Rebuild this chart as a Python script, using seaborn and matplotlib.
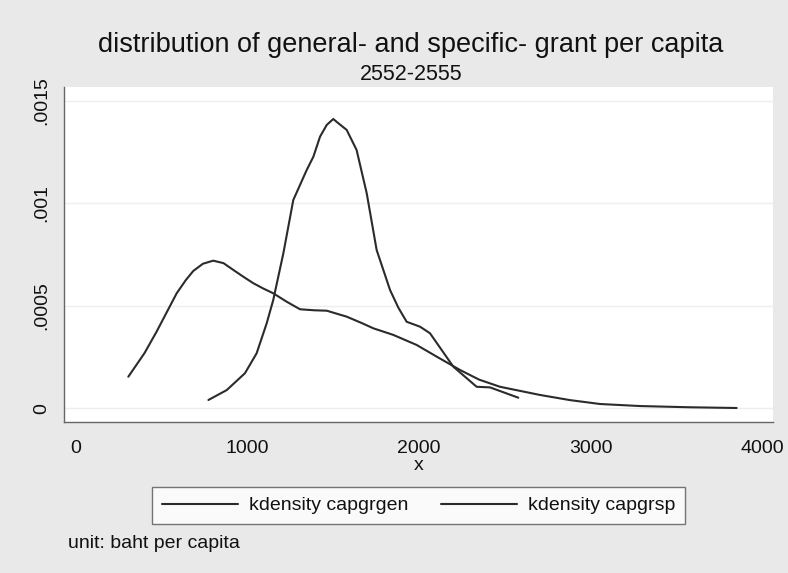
import matplotlib
matplotlib.use("Agg")
import matplotlib.pyplot as plt
import numpy as np
import pandas as pd
import seaborn as sns

# Kernel density estimates (evaluation points and densities)
gen_x = [305, 400, 470, 530, 587, 640, 684, 740, 800, 860, 917, 975, 1034, 1090,
         1150, 1228, 1306, 1390, 1462, 1578, 1660, 1734, 1850, 1986, 2103, 2239,
         2350, 2472, 2706, 2880, 3055, 3289, 3580, 3852]
gen_y = [0.000154, 0.000270, 0.000374, 0.000470, 0.000561, 0.000625, 0.000670,
         0.000705, 0.000720, 0.000708, 0.000675, 0.000642, 0.000610, 0.000585,
         0.000561, 0.000520, 0.000483, 0.000478, 0.000476, 0.000447, 0.000418,
         0.000390, 0.000358, 0.000309, 0.000252, 0.000187, 0.000140, 0.000105,
         0.000065, 0.000040, 0.000021, 0.000011, 0.000005, 0.0000015]

sp_x = [772, 879, 985, 1053, 1112, 1150, 1209, 1267, 1345, 1384, 1423, 1462,
        1500, 1530, 1578, 1636, 1695, 1753, 1831, 1880, 1928, 2006, 2064, 2200,
        2336, 2414, 2579]
sp_y = [0.0000405, 0.000089, 0.000171, 0.000268, 0.000415, 0.000528, 0.000756,
        0.001016, 0.001162, 0.001227, 0.001325, 0.001382, 0.001411, 0.001390,
        0.001358, 0.001260, 0.001049, 0.000772, 0.000577, 0.000490, 0.000422,
        0.000398, 0.000366, 0.000203, 0.000105, 0.000102, 0.0000517]

series_names = ["kdensity capgrgen", "kdensity capgrsp"]
x_ticks = [0, 1000, 2000, 3000, 4000]
y_ticks = [0, 0.0005, 0.001, 0.0015]
y_tick_labels = ["0", ".0005", ".001", ".0015"]

df = pd.concat([
    pd.DataFrame({"x": gen_x, "density": gen_y, "series": series_names[0]}),
    pd.DataFrame({"x": sp_x, "density": sp_y, "series": series_names[1]}),
], ignore_index=True)

sns.set_style("white")
plt.rcParams["font.family"] = ["Liberation Sans", "DejaVu Sans"]

W, H = 788, 573
bg = "#e9e9e9"
fig = plt.figure(figsize=(W / 100, H / 100), dpi=100, facecolor=bg)
ax = fig.add_axes([64 / W, 1 - 422 / H, 709 / W, 335 / H])
ax.set_facecolor("white")

line_col = "#2b2b2b"
sns.lineplot(data=df, x="x", y="density", hue="series", palette=[line_col, line_col],
             linewidth=1.5, ax=ax, sort=True)

ax.set_xlim(-70, 4064)
ax.set_ylim(-0.0000668, 0.001567)
ax.set_xticks(x_ticks)
ax.set_xticklabels([str(t) for t in x_ticks])
ax.set_yticks(y_ticks)
ax.set_yticklabels(y_tick_labels, rotation=90, va="center")
ax.yaxis.grid(True, color="#eeeeee", linewidth=1.0)
ax.set_axisbelow(True)

for side in ["top", "right"]:
    ax.spines[side].set_visible(False)
for side in ["left", "bottom"]:
    ax.spines[side].set_color("#666666")
    ax.spines[side].set_linewidth(1.0)
ax.tick_params(axis="both", direction="out", length=5, width=1, color="#666666",
               labelsize=14, labelcolor="#111111")
ax.tick_params(axis="y", pad=5)
ax.tick_params(axis="x", pad=8)
ax.set_xlabel("x", fontsize=14, color="#111111", labelpad=0)
ax.set_ylabel("")

handles, labels = ax.get_legend_handles_labels()
ax.get_legend().remove()
leg = fig.legend(handles, labels, loc="center", ncol=2,
                 bbox_to_anchor=(418.5 / W, 1 - 505.5 / H),
                 bbox_transform=fig.transFigure, fontsize=14, frameon=True,
                 fancybox=False, edgecolor="#555555", facecolor="white",
                 handlelength=3.9, handletextpad=0.57, columnspacing=1.7,
                 borderpad=0.5, borderaxespad=0)
leg.get_frame().set_linewidth(1.0)
for t in leg.get_texts():
    t.set_color("#111111")

fig.text(411 / W, 1 - 45 / H, "distribution of general- and specific- grant per capita",
         ha="center", va="center", fontsize=19.5, color="#111111")
fig.text(411 / W, 1 - 75 / H, "2552-2555", ha="center", va="center",
         fontsize=15.5, color="#111111")
fig.text(68 / W, 1 - 543 / H, "unit: baht per capita", ha="left", va="center",
         fontsize=14, color="#111111")

fig.savefig("out.png", dpi=100, facecolor=bg)
